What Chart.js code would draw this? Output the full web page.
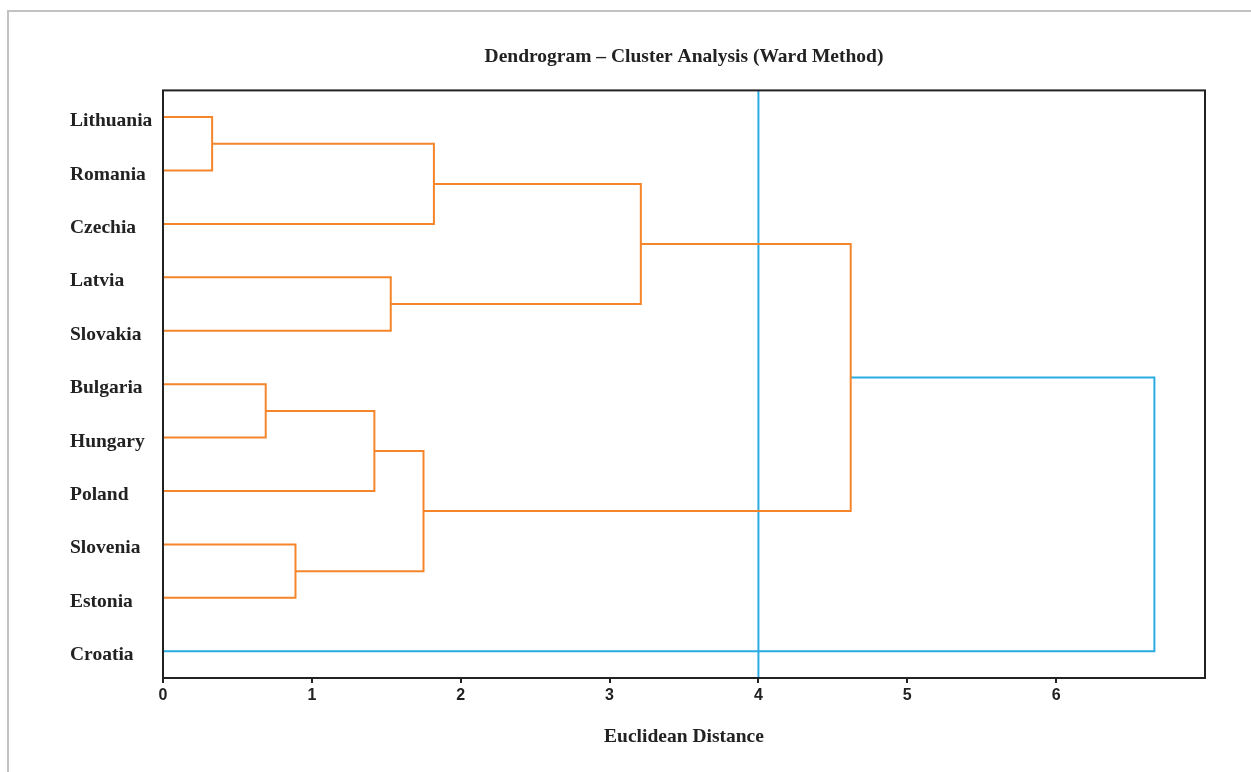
<!DOCTYPE html>
<html>
<head>
<meta charset="utf-8">
<script src="https://cdn.jsdelivr.net/npm/chart.js@4/dist/chart.umd.min.js"></script>
<style>
  html, body { margin: 0; padding: 0; background: #fff; }
  canvas { display: block; }
</style>
</head>
<body>
<canvas id="dendro" width="1251" height="772"></canvas>
<script>
  'use strict';

  // leaves, top to bottom
  var leaves = ['Lithuania', 'Romania', 'Czechia', 'Latvia', 'Slovakia',
    'Bulgaria', 'Hungary', 'Poland', 'Slovenia', 'Estonia', 'Croatia'];

  // linkage: leaves are 0..10, merged clusters get ids 11, 12, ...
  var mergeLeft = [0, 5, 8, 12, 3, 14, 11, 17, 18, 19];
  var mergeRight = [1, 6, 9, 7, 4, 13, 2, 15, 16, 10];
  var mergeHeight = [0.33, 0.69, 0.89, 1.42, 1.53, 1.75, 1.82, 3.21, 4.62, 6.66];

  var xTicks = [0, 1, 2, 3, 4, 5, 6];
  var cutDistance = 4;     // vertical reference line
  var colorThreshold = 5;  // links above this are drawn blue

  var orange = '#f5852b';
  var blue = '#2aace2';

  // walk the linkage and build one U-shaped link per merge
  var nodeX = [], nodeY = [];
  leaves.forEach(function (name, i) { nodeX[i] = 0; nodeY[i] = i; });

  var datasets = [];
  mergeHeight.forEach(function (h, i) {
    var a = mergeLeft[i], b = mergeRight[i];
    var id = leaves.length + i;
    nodeX[id] = h;
    nodeY[id] = (nodeY[a] + nodeY[b]) / 2;
    datasets.push({
      data: [
        { x: nodeX[a], y: nodeY[a] },
        { x: h, y: nodeY[a] },
        { x: h, y: nodeY[b] },
        { x: nodeX[b], y: nodeY[b] }
      ],
      showLine: true,
      borderColor: h > colorThreshold ? blue : orange,
      borderWidth: 2,
      pointRadius: 0,
      fill: false
    });
  });

  datasets.push({
    data: [{ x: cutDistance, y: -0.5 }, { x: cutDistance, y: leaves.length - 0.5 }],
    showLine: true,
    borderColor: blue,
    borderWidth: 2,
    pointRadius: 0,
    fill: false
  });

  var serif = "'Liberation Serif', 'DejaVu Serif', serif";

  var framePlugin = {
    id: 'frame',
    beforeDraw: function (chart) {
      var c = chart.ctx;
      c.save();
      c.fillStyle = '#fff';
      c.fillRect(0, 0, chart.width, chart.height);
      c.strokeStyle = '#c2c2c2';
      c.lineWidth = 2;
      c.beginPath();
      c.moveTo(8, chart.height);
      c.lineTo(8, 11);
      c.lineTo(chart.width, 11);
      c.stroke();
      c.restore();
    },
    afterDraw: function (chart) {
      var a = chart.chartArea, c = chart.ctx;
      c.save();
      c.strokeStyle = '#222';
      c.lineWidth = 2;
      c.strokeRect(a.left, a.top, a.right - a.left, a.bottom - a.top);
      c.restore();
    }
  };

  new Chart(document.getElementById('dendro'), {
    type: 'scatter',
    data: { datasets: datasets },
    plugins: [framePlugin],
    options: {
      responsive: false,
      animation: false,
      layout: { padding: { left: 70, right: 46, top: 0, bottom: 0 } },
      plugins: {
        legend: { display: false },
        tooltip: { enabled: false },
        title: {
          display: true,
          fullSize: false,
          text: 'Dendrogram \u2013 Cluster Analysis (Ward Method)',
          color: '#222',
          font: { family: serif, size: 19.5, weight: 'bold' },
          padding: { top: 45, bottom: 22 }
        }
      },
      scales: {
        x: {
          type: 'linear',
          min: 0,
          max: 7,
          afterBuildTicks: function (s) {
            s.ticks = xTicks.map(function (v) { return { value: v }; });
          },
          afterFit: function (s) { s.height = 94; },
          border: { display: false },
          grid: { drawOnChartArea: false, drawTicks: true, tickLength: 5, color: '#222', lineWidth: 2 },
          ticks: {
            color: '#222',
            padding: 3,
            maxRotation: 0,
            font: { family: "'Liberation Sans', Arial, sans-serif", size: 16, weight: 'bold' }
          },
          title: {
            display: true,
            text: 'Euclidean Distance',
            color: '#222',
            font: { family: serif, size: 19.5, weight: 'bold' },
            padding: { top: 0, bottom: 23 }
          }
        },
        y: {
          type: 'linear',
          reverse: true,
          min: -0.5,
          max: leaves.length - 0.5,
          afterBuildTicks: function (s) {
            s.ticks = leaves.map(function (n, i) { return { value: i }; });
          },
          afterFit: function (s) { s.width = 93; },
          border: { display: false },
          grid: { display: false },
          ticks: {
            color: '#222',
            crossAlign: 'far',
            labelOffset: 4,
            font: { family: serif, size: 19.5, weight: 'bold' },
            callback: function (v) { return leaves[v]; }
          }
        }
      }
    }
  });
</script>
</body>
</html>
